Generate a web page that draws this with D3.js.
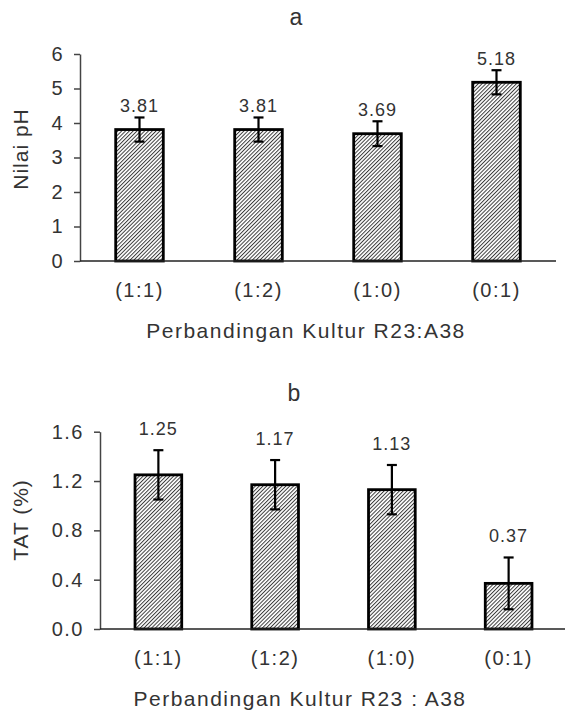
<!DOCTYPE html>
<html>
<head>
<meta charset="utf-8">
<script src="https://cdn.jsdelivr.net/npm/d3@7"></script>
<style>
  body { margin: 0; background: #fff; }
  text { font-family: "Liberation Sans", Arial, sans-serif; fill: #333; }
</style>
</head>
<body>
<div id="chart"></div>
<script>
// Data
const categories = ['(1:1)', '(1:2)', '(1:0)', '(0:1)'];
const phValues = [3.81, 3.81, 3.69, 5.18];
const phErrors = [0.35, 0.35, 0.36, 0.35];
const phTicks = [0, 1, 2, 3, 4, 5, 6];
const tatValues = [1.25, 1.17, 1.13, 0.37];
const tatErrors = [0.2, 0.2, 0.2, 0.21];
const tatTicks = [0, 0.4, 0.8, 1.2, 1.6];

const svg = d3.select('#chart').append('svg')
    .attr('width', 565).attr('height', 715);

// hatch pattern "////"
const pat = svg.append('defs').append('pattern')
    .attr('id', 'hatch')
    .attr('patternUnits', 'userSpaceOnUse')
    .attr('width', 2.7).attr('height', 2.7)
    .attr('patternTransform', 'rotate(45)');
pat.append('rect').attr('width', 2.7).attr('height', 2.7).attr('fill', '#fff');
pat.append('line').attr('x1', 0.5).attr('y1', 0).attr('x2', 0.5).attr('y2', 2.7)
    .attr('stroke', '#333').attr('stroke-width', 0.95);

function drawPanel(p){
    const data = categories.map((c, i) => ({cat: c, v: p.values[i], e: p.errors[i]}));
    const g = svg.append('g');

    const x = d3.scaleBand().domain(categories)
        .range(p.xRange).paddingInner(0.6).paddingOuter(0.3);
    const y = d3.scaleLinear().domain(p.yDomain).range(p.yRange);

    // y axis
    const yAxis = d3.axisLeft(y).tickValues(p.ticks).tickFormat(d3.format(p.fmt))
        .tickSizeInner(6).tickSizeOuter(0).tickPadding(10);
    const yg = g.append('g')
        .attr('transform', `translate(${p.xRange[0]},0)`)
        .call(yAxis);
    yg.select('.domain').attr('stroke', '#444').attr('stroke-width', 1.5);
    yg.selectAll('.tick line').attr('stroke', '#444').attr('stroke-width', 1.5);
    yg.selectAll('.tick text').style('font-size', '20px')
        .style('letter-spacing', '1.5px').attr('fill', '#333');

    // bars
    g.selectAll('.bar').data(data).join('rect')
        .attr('class', 'bar')
        .attr('x', d => x(d.cat))
        .attr('y', d => y(d.v))
        .attr('width', x.bandwidth())
        .attr('height', d => y(0) - y(d.v))
        .attr('fill', 'url(#hatch)')
        .attr('stroke', '#000')
        .attr('stroke-width', 2.8);

    // x axis line
    g.append('line')
        .attr('x1', p.xRange[0]).attr('x2', p.xLineEnd)
        .attr('y1', y(0)).attr('y2', y(0))
        .attr('stroke', '#222').attr('stroke-width', 1.5);

    // error bars
    const eb = g.selectAll('.err').data(data).join('g').attr('class', 'err')
        .attr('stroke', '#000').attr('stroke-width', 2.2);
    eb.append('line')
        .attr('x1', d => x(d.cat) + x.bandwidth() / 2)
        .attr('x2', d => x(d.cat) + x.bandwidth() / 2)
        .attr('y1', d => y(d.v + d.e)).attr('y2', d => y(d.v - d.e));
    eb.append('line')
        .attr('x1', d => x(d.cat) + x.bandwidth() / 2 - 5)
        .attr('x2', d => x(d.cat) + x.bandwidth() / 2 + 5)
        .attr('y1', d => y(d.v + d.e)).attr('y2', d => y(d.v + d.e));
    eb.append('line')
        .attr('x1', d => x(d.cat) + x.bandwidth() / 2 - 5)
        .attr('x2', d => x(d.cat) + x.bandwidth() / 2 + 5)
        .attr('y1', d => y(d.v - d.e)).attr('y2', d => y(d.v - d.e));

    // value labels
    g.selectAll('.val').data(data).join('text')
        .attr('class', 'val')
        .attr('x', d => x(d.cat) + x.bandwidth() / 2)
        .attr('y', d => y(d.v + d.e) - p.labelGap)
        .attr('text-anchor', 'middle')
        .style('font-size', '18px').style('letter-spacing', '1px')
        .text(d => d3.format('.2f')(d.v));

    // category labels
    g.selectAll('.cat').data(data).join('text')
        .attr('class', 'cat')
        .attr('x', d => x(d.cat) + x.bandwidth() / 2)
        .attr('y', y(0) + 36)
        .attr('text-anchor', 'middle')
        .style('font-size', '20px').style('letter-spacing', '1.5px')
        .text(d => d.cat);

    // axis titles
    g.append('text')
        .attr('x', p.xTitleX).attr('y', y(0) + 77)
        .attr('text-anchor', 'middle')
        .style('font-size', '21px').style('letter-spacing', '1.5px')
        .text(p.xTitle);
    g.append('text')
        .attr('transform', `translate(28,${p.yTitleY}) rotate(-90)`)
        .attr('text-anchor', 'middle')
        .style('font-size', '21px').style('letter-spacing', '1px')
        .text(p.yTitle);

    // panel title
    g.append('text')
        .attr('x', p.titleX).attr('y', p.titleY)
        .attr('text-anchor', 'middle')
        .style('font-size', '23px').attr('fill', '#222')
        .text(p.title);
}

drawPanel({
    values: phValues, errors: phErrors, ticks: phTicks, fmt: 'd',
    xRange: [80, 556], xLineEnd: 556, yDomain: [0, 6], yRange: [261, 54],
    labelGap: 5, xTitle: 'Perbandingan Kultur R23:A38', xTitleX: 306,
    yTitle: 'Nilai pH', yTitleY: 149, title: 'a', titleX: 296, titleY: 25
});

drawPanel({
    values: tatValues, errors: tatErrors, ticks: tatTicks, fmt: '.1f',
    xRange: [100, 567], xLineEnd: 565, yDomain: [0, 1.6], yRange: [629, 431.7],
    labelGap: 15, xTitle: 'Perbandingan Kultur R23 : A38', xTitleX: 300,
    yTitle: 'TAT (%)', yTitleY: 520, title: 'b', titleX: 294, titleY: 401
});
</script>
</body>
</html>
